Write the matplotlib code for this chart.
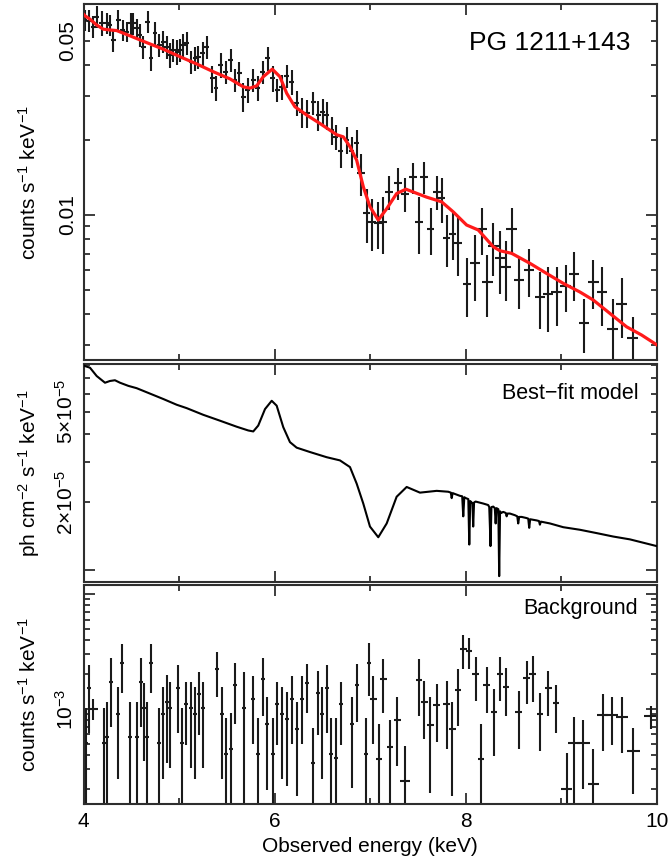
import numpy as np
import matplotlib
matplotlib.use('Agg')
import matplotlib.pyplot as plt
from matplotlib.ticker import FixedLocator, FixedFormatter

plt.rcParams['font.family'] = ['Liberation Sans', 'DejaVu Sans']
plt.rcParams['mathtext.fontset'] = 'custom'
plt.rcParams['mathtext.rm'] = 'Liberation Sans'
plt.rcParams['mathtext.it'] = 'Liberation Sans:italic'
plt.rcParams['mathtext.bf'] = 'Liberation Sans:bold'

# ---------------- data ----------------
# Source spectrum (counts s^-1 keV^-1)
src_E = [4.016, 4.061, 4.103, 4.138, 4.190, 4.243, 4.277, 4.312, 4.364, 4.410,
         4.452, 4.494, 4.521, 4.556, 4.591, 4.626, 4.672, 4.706, 4.748, 4.793,
         4.835, 4.870, 4.905, 4.939, 4.981, 5.009, 5.044, 5.079, 5.124, 5.166,
         5.201, 5.247, 5.289, 5.347, 5.386, 5.435, 5.487, 5.540, 5.585, 5.630,
         5.672, 5.718, 5.776, 5.822, 5.874, 5.927, 5.979, 6.027, 6.073, 6.126,
         6.178, 6.230, 6.282, 6.341, 6.404, 6.456, 6.502, 6.544, 6.596, 6.641,
         6.690, 6.753, 6.805, 6.858, 6.900, 6.962, 7.015, 7.084, 7.136, 7.199,
         7.287, 7.363, 7.450, 7.509, 7.565, 7.632, 7.695, 7.747, 7.799, 7.862,
         7.921, 8.012, 8.095, 8.165, 8.224, 8.287, 8.357, 8.416, 8.479, 8.555,
         8.660, 8.775, 8.862, 8.950, 9.044, 9.131, 9.235, 9.333, 9.427, 9.536,
         9.630, 9.745]
src_Ehw = [0.024, 0.024, 0.024, 0.024, 0.024, 0.024, 0.024, 0.024, 0.024, 0.024,
           0.024, 0.024, 0.024, 0.024, 0.024, 0.024, 0.024, 0.024, 0.024, 0.024,
           0.024, 0.024, 0.024, 0.024, 0.024, 0.024, 0.024, 0.024, 0.024, 0.024,
           0.024, 0.024, 0.024, 0.024, 0.024, 0.024, 0.024, 0.024, 0.024, 0.024,
           0.024, 0.024, 0.024, 0.024, 0.024, 0.024, 0.024, 0.024, 0.026, 0.026,
           0.026, 0.026, 0.026, 0.026, 0.026, 0.026, 0.026, 0.026, 0.026, 0.026,
           0.026, 0.026, 0.026, 0.026, 0.040, 0.040, 0.040, 0.040, 0.040, 0.040,
           0.040, 0.040, 0.040, 0.040, 0.040, 0.040, 0.040, 0.040, 0.040, 0.040,
           0.040, 0.040, 0.055, 0.055, 0.055, 0.055, 0.055, 0.055, 0.055, 0.055,
           0.055, 0.055, 0.055, 0.055, 0.055, 0.055, 0.055, 0.055, 0.055, 0.055,
           0.055, 0.055]
src_rate = [0.0607, 0.0603, 0.0570, 0.0625, 0.0589, 0.0589, 0.0579, 0.0505, 0.0607, 0.0553,
            0.0545, 0.0589, 0.0589, 0.0562, 0.0528, 0.0474, 0.0597, 0.0426, 0.0537, 0.0482,
            0.0497, 0.0474, 0.0439, 0.0460, 0.0453, 0.0460, 0.0482, 0.0489, 0.0413, 0.0426,
            0.0432, 0.0446, 0.0474, 0.0354, 0.0323, 0.0400, 0.0376, 0.0419, 0.0348, 0.0371,
            0.0299, 0.0318, 0.0348, 0.0323, 0.0376, 0.0426, 0.0354, 0.0318, 0.0327, 0.0362,
            0.0343, 0.0282, 0.0260, 0.0256, 0.0283, 0.0252, 0.0260, 0.0252, 0.0219, 0.0206,
            0.0180, 0.0200, 0.0180, 0.0194, 0.0147, 0.0102, 0.0094, 0.0093, 0.0094, 0.0124,
            0.0135, 0.0122, 0.0142, 0.0094, 0.0142, 0.0088, 0.0124, 0.0117, 0.0081, 0.0084,
            0.0077, 0.0053, 0.0064, 0.0088, 0.0054, 0.0075, 0.0067, 0.0062, 0.0088, 0.0055,
            0.0060, 0.0047, 0.0048, 0.0049, 0.0052, 0.0058, 0.0037, 0.0054, 0.0049, 0.0035,
            0.0044, 0.0032]
src_err = [0.0061, 0.0060, 0.0057, 0.0063, 0.0068, 0.0055, 0.0058, 0.0054, 0.0061, 0.0055,
           0.0051, 0.0059, 0.0059, 0.0052, 0.0056, 0.0051, 0.0060, 0.0049, 0.0057, 0.0052,
           0.0050, 0.0051, 0.0050, 0.0049, 0.0052, 0.0049, 0.0052, 0.0052, 0.0044, 0.0046,
           0.0046, 0.0048, 0.0051, 0.0044, 0.0037, 0.0046, 0.0040, 0.0045, 0.0037, 0.0040,
           0.0039, 0.0037, 0.0037, 0.0037, 0.0040, 0.0046, 0.0041, 0.0034, 0.0038, 0.0039,
           0.0039, 0.0032, 0.0036, 0.0033, 0.0030, 0.0035, 0.0032, 0.0033, 0.0028, 0.0024,
           0.0025, 0.0025, 0.0025, 0.0025, 0.0028, 0.0025, 0.0022, 0.0020, 0.0024, 0.0019,
           0.0020, 0.0019, 0.0020, 0.0024, 0.0021, 0.0019, 0.0019, 0.0024, 0.0019, 0.0018,
           0.0020, 0.0014, 0.0019, 0.0019, 0.0015, 0.0018, 0.0019, 0.0017, 0.0019, 0.0013,
           0.0013, 0.0012, 0.0014, 0.0013, 0.0011, 0.0013, 0.0009, 0.0012, 0.0013, 0.0011,
           0.0012, 0.0007]

# Folded best-fit model (red line)
fold_E = [4.000, 4.016, 4.068, 4.138, 4.207, 4.277, 4.347, 4.486, 4.661, 4.835,
          5.009, 5.184, 5.358, 5.532, 5.672, 5.742, 5.812, 5.881, 5.975, 6.055,
          6.126, 6.212, 6.335, 6.474, 6.649, 6.718, 6.788, 6.858, 6.927, 6.997,
          7.084, 7.172, 7.276, 7.373, 7.590, 7.747, 7.868, 8.008, 8.130, 8.287,
          8.357, 8.479, 8.671, 8.845, 9.019, 9.194, 9.333, 9.507, 9.682, 9.839,
          10.000]
fold_rate = [0.0640, 0.0630, 0.0611, 0.0579, 0.0557, 0.0553, 0.0550, 0.0524, 0.0492, 0.0463,
             0.0432, 0.0404, 0.0376, 0.0352, 0.0327, 0.0323, 0.0330, 0.0359, 0.0385, 0.0359,
             0.0308, 0.0272, 0.0252, 0.0233, 0.0210, 0.0206, 0.0188, 0.0166, 0.0130, 0.0108,
             0.00955, 0.0106, 0.0122, 0.0127, 0.0118, 0.0113, 0.0103, 0.00912, 0.00871, 0.00746,
             0.00719, 0.00702, 0.00640, 0.00583, 0.00532, 0.00491, 0.00456, 0.00403, 0.00356, 0.00330,
             0.00301]

# Unfolded best-fit model (ph cm^-2 s^-1 keV^-1)
mod_E = [4.000, 4.016, 4.068, 4.138, 4.225, 4.277, 4.329, 4.382, 4.469, 4.556,
         4.696, 4.835, 4.975, 5.079, 5.253, 5.428, 5.603, 5.724, 5.776, 5.828,
         5.899, 5.969, 6.021, 6.090, 6.160, 6.230, 6.369, 6.544, 6.683, 6.788,
         6.858, 6.927, 6.997, 7.084, 7.172, 7.276, 7.381, 7.520, 7.695, 7.816,
         7.843, 7.852, 7.862, 7.886, 7.938, 7.962, 7.973, 7.984, 8.001, 8.026,
         8.036, 8.046, 8.061, 8.069, 8.077, 8.086, 8.102, 8.182, 8.234, 8.245,
         8.252, 8.258, 8.268, 8.287, 8.303, 8.312, 8.321, 8.340, 8.349, 8.358,
         8.370, 8.391, 8.418, 8.427, 8.436, 8.461, 8.514, 8.538, 8.548, 8.558,
         8.584, 8.636, 8.653, 8.663, 8.673, 8.741, 8.765, 8.775, 8.785, 8.880,
         9.019, 9.194, 9.368, 9.542, 9.717, 9.996]
mod_flux = [8.00e-5, 7.93e-5, 7.80e-5, 7.17e-5, 6.70e-5, 6.82e-5, 6.87e-5, 6.70e-5, 6.49e-5, 6.34e-5,
            6.00e-5, 5.68e-5, 5.36e-5, 5.18e-5, 4.84e-5, 4.56e-5, 4.29e-5, 4.13e-5, 4.09e-5, 4.34e-5,
            5.13e-5, 5.58e-5, 5.31e-5, 4.27e-5, 3.67e-5, 3.47e-5, 3.32e-5, 3.15e-5, 3.05e-5, 2.85e-5,
            2.41e-5, 1.97e-5, 1.56e-5, 1.40e-5, 1.61e-5, 2.11e-5, 2.33e-5, 2.20e-5, 2.24e-5, 2.22e-5,
            2.20e-5, 2.08e-5, 2.19e-5, 2.17e-5, 2.13e-5, 2.12e-5, 1.73e-5, 2.10e-5, 2.08e-5, 2.06e-5,
            1.30e-5, 2.02e-5, 1.99e-5, 1.98e-5, 1.56e-5, 1.99e-5, 2.01e-5, 1.97e-5, 1.94e-5, 1.90e-5,
            1.56e-5, 1.28e-5, 1.90e-5, 1.91e-5, 1.88e-5, 1.61e-5, 1.88e-5, 1.86e-5, 0.944e-5, 1.82e-5,
            1.79e-5, 1.81e-5, 1.79e-5, 1.73e-5, 1.78e-5, 1.78e-5, 1.75e-5, 1.73e-5, 1.61e-5, 1.72e-5,
            1.72e-5, 1.70e-5, 1.69e-5, 1.54e-5, 1.68e-5, 1.66e-5, 1.65e-5, 1.59e-5, 1.64e-5, 1.61e-5,
            1.55e-5, 1.51e-5, 1.46e-5, 1.41e-5, 1.37e-5, 1.28e-5]

# Background spectrum (counts s^-1 keV^-1)
bkg_E = [4.026, 4.061, 4.103, 4.214, 4.249, 4.285, 4.358, 4.406, 4.486, 4.556,
         4.598, 4.633, 4.667, 4.706, 4.790, 4.828, 4.870, 4.905, 4.985, 5.027,
         5.072, 5.121, 5.166, 5.211, 5.253, 5.393, 5.446, 5.491, 5.540, 5.585,
         5.679, 5.776, 5.828, 5.874, 5.923, 5.979, 6.027, 6.073, 6.126, 6.178,
         6.230, 6.289, 6.341, 6.404, 6.456, 6.498, 6.544, 6.586, 6.641, 6.690,
         6.805, 6.858, 6.952, 6.986, 7.031, 7.091, 7.136, 7.206, 7.282, 7.363,
         7.509, 7.565, 7.628, 7.695, 7.799, 7.858, 7.917, 7.973, 8.032, 8.103,
         8.158, 8.218, 8.294, 8.357, 8.420, 8.552, 8.636, 8.699, 8.775, 8.862,
         8.942, 9.054, 9.131, 9.228, 9.333, 9.431, 9.525, 9.636, 9.751, 9.936]
bkg_Ehw = [0.022, 0.022, 0.050, 0.022, 0.022, 0.022, 0.022, 0.022, 0.022, 0.022,
           0.022, 0.022, 0.022, 0.022, 0.022, 0.022, 0.022, 0.022, 0.022, 0.022,
           0.022, 0.022, 0.022, 0.022, 0.022, 0.022, 0.022, 0.022, 0.022, 0.022,
           0.022, 0.022, 0.022, 0.022, 0.022, 0.022, 0.022, 0.022, 0.022, 0.022,
           0.022, 0.022, 0.022, 0.022, 0.022, 0.022, 0.022, 0.022, 0.022, 0.022,
           0.022, 0.022, 0.022, 0.022, 0.035, 0.035, 0.035, 0.035, 0.035, 0.050,
           0.035, 0.035, 0.035, 0.035, 0.035, 0.035, 0.035, 0.035, 0.035, 0.035,
           0.035, 0.035, 0.035, 0.035, 0.035, 0.035, 0.035, 0.035, 0.035, 0.035,
           0.035, 0.055, 0.060, 0.070, 0.060, 0.060, 0.065, 0.065, 0.070, 0.075]
bkg_rate = [0.503e-3, 1.514e-3, 1.010e-3, 0.503e-3, 0.574e-3, 1.727e-3, 0.905e-3, 2.530e-3, 0.574e-3, 0.574e-3,
            1.727e-3, 1.014e-3, 0.574e-3, 2.530e-3, 0.503e-3, 0.905e-3, 1.157e-3, 1.014e-3, 1.514e-3, 0.503e-3,
            1.105e-3, 1.014e-3, 0.905e-3, 1.350e-3, 1.014e-3, 2.214e-3, 0.905e-3, 0.404e-3, 0.446e-3, 1.617e-3,
            1.014e-3, 1.214e-3, 0.404e-3, 1.812e-3, 0.736e-3, 0.404e-3, 1.105e-3, 0.905e-3, 0.814e-3, 1.214e-3,
            0.666e-3, 1.214e-3, 1.693e-3, 0.337e-3, 1.369e-3, 0.905e-3, 1.514e-3, 0.404e-3, 0.373e-3, 1.105e-3,
            0.736e-3, 1.617e-3, 0.404e-3, 2.530e-3, 1.214e-3, 0.367e-3, 1.812e-3, 0.470e-3, 0.802e-3, 0.237e-3,
            1.787e-3, 1.157e-3, 0.726e-3, 1.083e-3, 1.105e-3, 0.666e-3, 1.463e-3, 3.305e-3, 3.193e-3, 2.015e-3,
            0.367e-3, 1.617e-3, 0.936e-3, 2.015e-3, 1.563e-3, 0.947e-3, 1.872e-3, 2.015e-3, 0.899e-3, 1.514e-3,
            1.121e-3, 0.200e-3, 0.503e-3, 0.503e-3, 0.221e-3, 0.892e-3, 0.882e-3, 0.847e-3, 0.431e-3, 0.869e-3]
bkg_err = [0.51e-3, 0.90e-3, 0.20e-3, 0.51e-3, 0.58e-3, 1.03e-3, 0.66e-3, 1.14e-3, 0.58e-3, 0.58e-3,
           1.03e-3, 0.66e-3, 0.58e-3, 1.14e-3, 0.51e-3, 0.66e-3, 0.82e-3, 0.71e-3, 0.90e-3, 0.51e-3,
           0.62e-3, 0.71e-3, 0.66e-3, 0.76e-3, 0.71e-3, 0.93e-3, 0.66e-3, 0.43e-3, 0.47e-3, 0.88e-3,
           1.10e-3, 0.72e-3, 0.43e-3, 0.95e-3, 0.54e-3, 0.43e-3, 0.62e-3, 0.66e-3, 0.60e-3, 0.72e-3,
           0.49e-3, 0.72e-3, 0.77e-3, 0.34e-3, 0.78e-3, 0.66e-3, 0.90e-3, 0.43e-3, 0.46e-3, 0.62e-3,
           0.53e-3, 0.85e-3, 0.43e-3, 1.22e-3, 0.72e-3, 0.37e-3, 0.89e-3, 0.34e-3, 0.48e-3, 0.24e-3,
           0.92e-3, 0.61e-3, 0.54e-3, 0.57e-3, 0.66e-3, 0.49e-3, 0.75e-3, 1.09e-3, 0.95e-3, 0.84e-3,
           0.37e-3, 0.69e-3, 0.55e-3, 0.84e-3, 0.70e-3, 0.50e-3, 0.76e-3, 0.87e-3, 0.47e-3, 0.64e-3,
           0.50e-3, 0.21e-3, 0.35e-3, 0.30e-3, 0.23e-3, 0.46e-3, 0.40e-3, 0.43e-3, 0.25e-3, 0.20e-3]

# Axis ticks / labels
x_major = [4, 6, 8, 10]
x_minor = [5, 7, 9]
x_labels = ['4', '6', '8', '10']

y1_major = [0.01]
y1_major_lab = ['0.01']
y1_minor = [0.003, 0.004, 0.005, 0.006, 0.007, 0.008, 0.009, 0.02, 0.03, 0.04, 0.05, 0.06, 0.07]
y1_minor_lab = ['', '', '', '', '', '', '', '', '', '', '0.05', '', '']

y2_major = [1e-5]
y2_major_lab = ['']
y2_minor = [2e-5, 3e-5, 4e-5, 5e-5, 6e-5, 7e-5, 8e-5]
y2_minor_lab = [r'2$\times$10$^{-5}$', '', '', r'5$\times$10$^{-5}$', '', '', '']

y3_major = [1e-3, 1e-2]
y3_major_lab = [r'10$^{-3}$', '']
y3_minor = [2e-4, 3e-4, 4e-4, 5e-4, 6e-4, 7e-4, 8e-4, 9e-4,
            2e-3, 3e-3, 4e-3, 5e-3, 6e-3, 7e-3, 8e-3, 9e-3]
y3_minor_lab = ['', '', '', '', '', '', '', '', '', '', '', '', '', '', '', '']

# ---------------- figure ----------------
W, H = 668, 865
fig = plt.figure(figsize=(W / 100, H / 100), dpi=100)
XL, XR = 83.5, 657.0


def ax_at(top, bottom):
    return fig.add_axes([XL / W, 1 - bottom / H, (XR - XL) / W, (bottom - top) / H])


ax1 = ax_at(4, 360)
ax2 = ax_at(364, 581.5)
ax3 = ax_at(585, 804)

SPC = '#2e2e2e'
DC = '#1a1a1a'


def style(ax, ylim, ymaj, ymajlab, ymin, yminlab, show_x):
    ax.set_xlim(4, 10)
    ax.set_yscale('log')
    ax.set_ylim(*ylim)
    for s in ax.spines.values():
        s.set_color(SPC)
        s.set_linewidth(1.5)
    ax.xaxis.set_major_locator(FixedLocator(x_major))
    ax.xaxis.set_minor_locator(FixedLocator(x_minor))
    ax.xaxis.set_major_formatter(FixedFormatter(x_labels))
    ax.yaxis.set_major_locator(FixedLocator(ymaj))
    ax.yaxis.set_major_formatter(FixedFormatter(ymajlab))
    ax.yaxis.set_minor_locator(FixedLocator(ymin))
    ax.yaxis.set_minor_formatter(FixedFormatter(yminlab))
    ax.tick_params(which='both', direction='in', top=True, right=True,
                   color=SPC, width=1.3, labelsize=15, labelcolor='black')
    ax.tick_params(which='major', length=8)
    ax.tick_params(which='minor', length=4.5)
    ax.tick_params(axis='y', which='both', pad=4.5, labelrotation=90)
    ax.tick_params(axis='x', which='both', pad=6, labelbottom=show_x)
    for t in ax.yaxis.get_major_ticks() + ax.yaxis.get_minor_ticks():
        t.label1.set_verticalalignment('center')


# Panel 1: source spectrum + folded model
ax1.errorbar(src_E, src_rate, xerr=src_Ehw, yerr=src_err, fmt='none',
             ecolor=DC, elinewidth=1.5, capsize=0, zorder=2)
ax1.plot(fold_E, fold_rate, color='#ff1a1a', lw=2.3, zorder=3, solid_joinstyle='round')
style(ax1, (0.00262, 0.0703), y1_major, y1_major_lab, y1_minor, y1_minor_lab, False)
ax1.text((630 - XL) / (XR - XL), (360 - 49.5) / 356, 'PG 1211+143', transform=ax1.transAxes,
         ha='right', va='baseline', fontsize=19)

# Panel 2: best-fit model
ax2.plot(mod_E, mod_flux, color='black', lw=1.5, zorder=3)
style(ax2, (8.94e-6, 8.1e-5), y2_major, y2_major_lab, y2_minor, y2_minor_lab, False)
ax2.text((638.3 - XL) / (XR - XL), (581.5 - 399.3) / 217.5, 'Best\u2212fit model',
         transform=ax2.transAxes, ha='right', va='baseline', fontsize=15.5)

# Panel 3: background
ax3.errorbar(bkg_E, bkg_rate, xerr=bkg_Ehw, yerr=bkg_err, fmt='none',
             ecolor=DC, elinewidth=1.5, capsize=0, zorder=2)
style(ax3, (1.49e-4, 1.2e-2), y3_major, y3_major_lab, y3_minor, y3_minor_lab, True)
ax3.text((638.3 - XL) / (XR - XL), (804 - 614.3) / 219, 'Background',
         transform=ax3.transAxes, ha='right', va='baseline', fontsize=15.5)

# Axis titles
ylab1 = r'counts s$^{-1}$ keV$^{-1}$'
ylab2 = r'ph cm$^{-2}$ s$^{-1}$ keV$^{-1}$'
fig.text(29 / W, 1 - 182 / H, ylab1, rotation=90, ha='center', va='center', fontsize=15)
fig.text(29 / W, 1 - 473 / H, ylab2, rotation=90, ha='center', va='center', fontsize=15)
fig.text(29 / W, 1 - 694 / H, ylab1, rotation=90, ha='center', va='center', fontsize=15)
fig.text(370 / W, 1 - 851.7 / H, 'Observed energy (keV)', ha='center', va='baseline', fontsize=15)

fig.savefig('out.png', dpi=100)
